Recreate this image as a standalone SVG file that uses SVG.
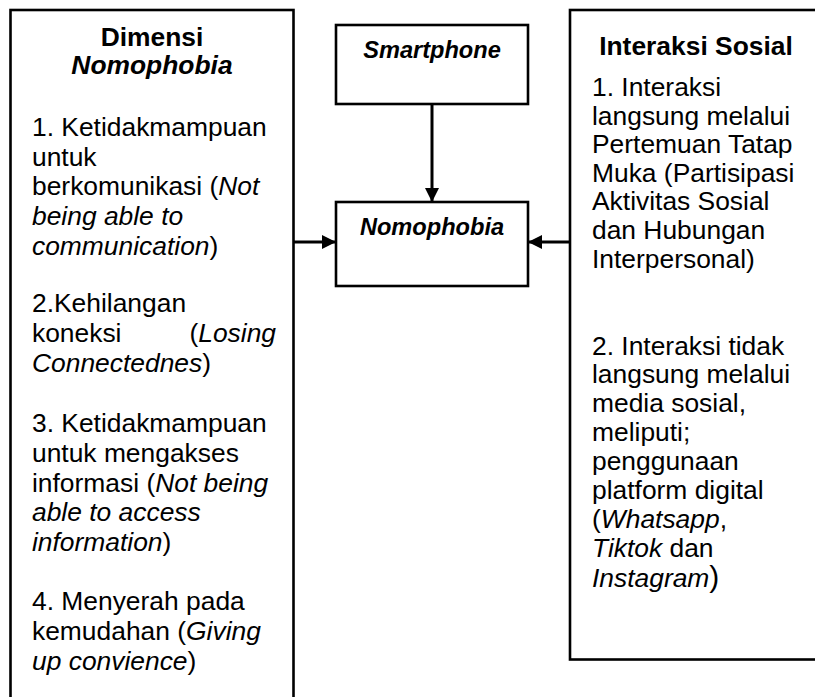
<svg xmlns="http://www.w3.org/2000/svg" width="815" height="697" viewBox="0 0 815 697">
<defs>
<style>
.box{fill:#fff;stroke:#000;stroke-width:2.6}
.t{font-family:"Liberation Sans",Arial,sans-serif;font-size:26.4px;fill:#000}
.c{font-family:"Liberation Sans",Arial,sans-serif;font-size:23.6px;fill:#000;font-weight:bold;font-style:italic}
.b{font-weight:bold}
.i{font-style:italic}
.conn{stroke:#000;stroke-width:3;fill:none}
</style>
<marker id="ah" markerWidth="14" markerHeight="14" refX="14" refY="7" orient="auto" markerUnits="userSpaceOnUse">
<path d="M0,0 L14,7 L0,14 Z" fill="#000"/>
</marker>
</defs>
<rect width="815" height="697" fill="#fff"/>
<g id="dimensi">
<rect class="box" x="10.5" y="10" width="283" height="720"/>
<text class="t b" x="152" y="46" text-anchor="middle">Dimensi</text>
<text class="t b i" x="152" y="74" text-anchor="middle">Nomophobia</text>
<text class="t" x="32" y="136">1. Ketidakmampuan</text>
<text class="t" x="32" y="166">untuk</text>
<text class="t" x="32" y="195">berkomunikasi (<tspan class="i">Not</tspan></text>
<text class="t i" x="32" y="225">being able to</text>
<text class="t" x="32" y="255"><tspan class="i">communication</tspan>)</text>
<text class="t" x="32" y="312">2.Kehilangan</text>
<text class="t" x="32" y="342">koneksi</text>
<text class="t" x="276" y="342" text-anchor="end">(<tspan class="i">Losing</tspan></text>
<text class="t" x="32" y="372"><tspan class="i">Connectednes</tspan>)</text>
<text class="t" x="32" y="432">3. Ketidakmampuan</text>
<text class="t" x="32" y="462">untuk mengakses</text>
<text class="t" x="32" y="492">informasi (<tspan class="i">Not being</tspan></text>
<text class="t i" x="32" y="521">able to access</text>
<text class="t" x="32" y="551"><tspan class="i">information</tspan>)</text>
<text class="t" x="32" y="610">4. Menyerah pada</text>
<text class="t" x="32" y="640">kemudahan (<tspan class="i">Giving</tspan></text>
<text class="t" x="32" y="670"><tspan class="i">up convience</tspan>)</text>
</g>
<g id="smartphone">
<rect class="box" x="336" y="25" width="192" height="79"/>
<text class="c" x="432" y="58" text-anchor="middle">Smartphone</text>
</g>
<g id="nomophobia">
<rect class="box" x="336" y="202" width="192" height="84"/>
<text class="c" x="432" y="235" text-anchor="middle">Nomophobia</text>
</g>
<g id="interaksi">
<rect class="box" x="570" y="10" width="260" height="649.5"/>
<text class="t b" x="696" y="55" text-anchor="middle">Interaksi Sosial</text>
<text class="t" x="592" y="96">1. Interaksi</text>
<text class="t" x="592" y="125">langsung melalui</text>
<text class="t" x="592" y="153">Pertemuan Tatap</text>
<text class="t" x="592" y="182">Muka (Partisipasi</text>
<text class="t" x="592" y="210">Aktivitas Sosial</text>
<text class="t" x="592" y="239">dan Hubungan</text>
<text class="t" x="592" y="268">Interpersonal)</text>
<text class="t" x="592" y="355">2. Interaksi tidak</text>
<text class="t" x="592" y="383">langsung melalui</text>
<text class="t" x="592" y="412">media sosial,</text>
<text class="t" x="592" y="441">meliputi;</text>
<text class="t" x="592" y="470">penggunaan</text>
<text class="t" x="592" y="499">platform digital</text>
<text class="t" x="592" y="528">(<tspan class="i">Whatsapp</tspan>,</text>
<text class="t" x="592" y="557"><tspan class="i">Tiktok</tspan> dan</text>
<text class="t" x="592" y="587"><tspan class="i">Instagram</tspan><tspan style="font-size:30px">)</tspan></text>
</g>
<g id="connectors">
<line class="conn" x1="432" y1="104" x2="432" y2="202" marker-end="url(#ah)"/>
<line class="conn" x1="294" y1="242" x2="336" y2="242" marker-end="url(#ah)"/>
<line class="conn" x1="570" y1="242" x2="528" y2="242" marker-end="url(#ah)"/>
</g>
</svg>
